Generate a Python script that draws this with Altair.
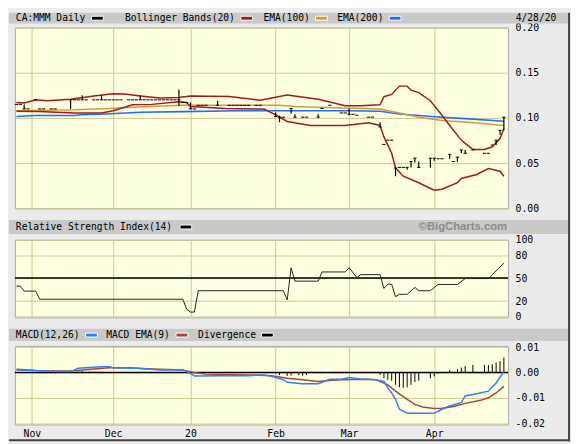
import altair as alt
import pandas as pd

# ---------------- data ----------------
month_names = ["Nov", "Dec", "20", "Feb", "Mar", "Apr"]
month_start_idx = [4, 25, 45, 67, 86, 108]   # trading-day index of each month's first session

# daily price bars: close tick for each traded day
bar_idx = [0, 1, 2, 3, 5, 6, 7, 9, 10,
           14, 15, 16, 17, 18, 20, 21, 22, 23, 24, 25, 26, 27, 29, 30, 31, 32,
           33, 34, 35, 36, 37, 38, 39, 40, 41, 42, 43, 44,
           45, 46, 47, 48, 49, 52, 55, 56, 57, 58, 59, 60, 62, 63,
           67, 68, 69, 71, 72, 74, 75, 78, 79, 81, 84, 85,
           86, 87, 88, 91, 92, 94, 95, 96, 97, 98, 99, 100, 101, 102, 103, 104,
           107, 108, 109, 110, 112, 113, 114, 115, 116, 118, 121, 122, 123, 124, 125, 126]
bar_close = [0.115, 0.115, 0.110, 0.110, 0.120, 0.110, 0.110, 0.110, 0.110,
             0.120, 0.120, 0.120, 0.120, 0.120, 0.120, 0.120, 0.120, 0.120, 0.120, 0.120, 0.120, 0.120, 0.120, 0.120, 0.120, 0.120,
             0.120, 0.120, 0.120, 0.120, 0.120, 0.120, 0.120, 0.120, 0.120, 0.120, 0.117, 0.117,
             0.110, 0.110, 0.114, 0.114, 0.114, 0.114, 0.114, 0.114, 0.114, 0.114, 0.114, 0.114, 0.114, 0.114,
             0.1015, 0.1008, 0.1008, 0.1105, 0.1008, 0.1008, 0.1008, 0.1008, 0.1105, 0.114, 0.1055, 0.1055,
             0.104, 0.104, 0.103, 0.1008, 0.1008, 0.090, 0.0707, 0.0754, 0.0754, 0.0446, 0.0453, 0.0453, 0.0453, 0.0518, 0.0555, 0.0453,
             0.0555, 0.0555, 0.0548, 0.0548, 0.0598, 0.0518, 0.0566, 0.0646, 0.0609, 0.0646, 0.0609, 0.0609, 0.070, 0.0754, 0.0863, 0.1008]

# days with a visible high-low range
range_idx = [2, 14, 17, 22, 32, 42, 45, 52, 67, 68, 71, 72, 78, 86, 94, 98,
             101, 102, 103, 104, 107, 108, 112, 114, 115, 116, 124, 125, 126]
range_low = [0.110, 0.110, 0.120, 0.120, 0.120, 0.1135, 0.110, 0.114, 0.1015, 0.0953, 0.105, 0.1008, 0.1008, 0.1035, 0.090, 0.0355,
             0.0428, 0.0453, 0.0508, 0.0453, 0.0453, 0.0527, 0.0548, 0.0515, 0.0609, 0.0609, 0.070, 0.0815, 0.0863]
range_high = [0.115, 0.120, 0.125, 0.125, 0.125, 0.1315, 0.117, 0.119, 0.106, 0.1026, 0.1105, 0.104, 0.104, 0.1105, 0.0953, 0.0446,
              0.0453, 0.0518, 0.0555, 0.0518, 0.0555, 0.0555, 0.0598, 0.0566, 0.0646, 0.0646, 0.0754, 0.0863, 0.1008]

bb_up_idx = [0, 2, 5, 8, 14, 20, 25, 28, 32, 37, 42, 45, 55, 63, 70, 78, 85, 89, 94, 95, 97, 99, 101, 102,
             104, 107, 110, 112, 115, 116, 118, 121, 123, 125, 126]
bb_up_val = [0.117, 0.1165, 0.120, 0.119, 0.1207, 0.1243, 0.1268, 0.1265, 0.1243, 0.122, 0.1225, 0.1243, 0.1236, 0.1196,
             0.1254, 0.1207, 0.1135, 0.1135, 0.1145, 0.1235, 0.126, 0.1352, 0.1352, 0.1308, 0.128, 0.119, 0.103, 0.0917,
             0.0755, 0.0718, 0.0652, 0.0652, 0.0681, 0.0772, 0.088]

bb_lo_idx = [0, 6, 15, 22, 25, 30, 35, 42, 44, 45, 54, 64, 67, 70, 76, 85, 91, 94, 95, 97, 98, 100,
             104, 108, 110, 114, 115, 119, 122, 125, 126]
bb_lo_val = [0.1073, 0.107, 0.1055, 0.1055, 0.108, 0.1146, 0.115, 0.1178, 0.117, 0.1127, 0.1105, 0.1098, 0.1033, 0.0961,
             0.0917, 0.0917, 0.0946, 0.0917, 0.079, 0.0609, 0.0446, 0.0355, 0.0283, 0.020, 0.0211, 0.0283, 0.033, 0.0374,
             0.0439, 0.041, 0.0355]

ema100_idx = [0, 15, 24, 34, 43, 68, 72, 80, 94, 98, 104, 110, 117, 126]
ema100_val = [0.108, 0.109, 0.1105, 0.1127, 0.114, 0.114, 0.1127, 0.1116, 0.1098, 0.1062, 0.1008, 0.0972, 0.0953, 0.0917]

ema200_idx = [0, 5, 15, 17, 23, 32, 43, 57, 86, 94, 99, 110, 117, 126]
ema200_val = [0.1015, 0.1026, 0.1026, 0.1037, 0.1044, 0.1062, 0.107, 0.108, 0.108, 0.1073, 0.1044, 0.1008, 0.099, 0.0964]

rsi_idx = [0, 1, 2, 5, 6, 43, 44, 45, 46, 47, 69, 70, 71, 72, 78, 79, 85, 86, 88, 89, 94, 95, 96, 97, 98,
           99, 101, 103, 104, 107, 109, 114, 116, 122, 123, 126]
rsi_val = [39.5, 39.5, 33, 33, 22.4, 22.4, 9.5, 5.6, 5.6, 33.5, 33.5, 21.5, 63.5, 46, 46, 58, 58, 63.5, 50.7, 54.5,
           54.5, 36.5, 42, 42, 25.7, 28.8, 28.8, 37.8, 33.5, 33.5, 41.7, 41.7, 49.4, 49.4, 54.5, 69.5]

macd_idx = [0, 5, 10, 14, 16, 22, 24, 25, 31, 37, 43, 45, 46, 52, 60, 64, 66, 69, 70, 74, 78, 79, 81, 84, 86,
            89, 93, 95, 96, 97, 98, 99, 101, 108, 110, 112, 115, 116, 119, 122, 124, 126]
macd_val = [0.001, 0.0008, 0.0004, 0.0004, 0.0017, 0.0023, 0.0023, 0.0019, 0.0017, 0.001, 0.001, -0.0003, -0.0013,
            -0.0012, -0.0012, -0.0009, -0.0015, -0.0028, -0.0038, -0.0044, -0.0044, -0.0038, -0.0026, -0.0026, -0.0019,
            -0.0025, -0.0028, -0.0035, -0.006, -0.008, -0.0105, -0.0144, -0.016, -0.016, -0.0144, -0.0131, -0.0118,
            -0.0092, -0.0083, -0.0073, -0.0041, 0.0004]

sig_idx = [0, 5, 10, 15, 20, 24, 29, 35, 43, 46, 49, 60, 66, 70, 74, 78, 80, 84, 90, 93, 96, 98, 101, 103, 105,
           108, 110, 113, 116, 120, 122, 124, 126]
sig_val = [0.0013, 0.0008, 0.0006, 0.0007, 0.0014, 0.0019, 0.0019, 0.0014, 0.001, 0.0, -0.0006, -0.0009, -0.0012,
           -0.0022, -0.0028, -0.0035, -0.0032, -0.0028, -0.0026, -0.0028, -0.0048, -0.0073, -0.0105, -0.0125, -0.0135,
           -0.0141, -0.014, -0.0133, -0.0121, -0.0109, -0.0099, -0.008, -0.0054]

div_idx = [2, 3, 6, 7, 9, 10, 16, 17, 19, 20,
           31, 32, 33, 34, 35, 36, 37, 38, 39, 40, 41, 42,
           44, 45, 47, 48, 50, 52, 54, 56, 58, 60,
           67, 68, 70, 71, 73, 74, 75, 81, 84, 85, 86,
           94, 95, 96, 97, 98, 99, 100, 101, 102, 103, 104, 107, 108, 109,
           112, 114, 115, 116, 118, 121, 122, 123, 124, 125, 126]
div_val = [-0.0002, -0.0002, -0.0002, -0.0003, -0.0003, -0.0003, 0.0004, 0.0006, 0.0005, 0.0004,
           -0.0002, -0.0002, -0.0002, -0.0002, -0.0002, -0.0002, -0.0002, -0.0002, -0.0002, -0.0002, -0.0002, -0.0002,
           -0.0003, -0.0004, -0.0003, -0.0003, -0.0002, -0.0002, -0.0002, -0.0002, -0.0002, -0.0002,
           -0.0005, -0.001, -0.0013, -0.0012, -0.001, -0.0012, -0.001, 0.0003, 0.0003, 0.0003, 0.0003,
           -0.0009, -0.0022, -0.0028, -0.0032, -0.0048, -0.0058, -0.006, -0.0058, -0.0048, -0.0037, -0.0032,
           -0.0022, -0.0015, -0.0004,
           0.001, 0.0014, 0.002, 0.0026, 0.003, 0.003, 0.003, 0.0033, 0.004, 0.0045, 0.0059]

main_legend = ["CA:MMM Daily", "Bollinger Bands(20)", "EMA(100)", "EMA(200)"]
rsi_legend = ["Relative Strength Index(14)"]
macd_legend = ["MACD(12,26)", "MACD EMA(9)", "Divergence"]
date_text = "4/28/20"
credit_text = "\u00a9BigCharts.com"

# ---------------- style ----------------
MONO = "DejaVu Sans Mono"
GRID = "#cfc792"
HEAD = "#c9c9c9"
BG = "#ebebeb"
C_BB = "#a31a1a"
C_E100 = "#d49a3a"
C_E200 = "#1f6fff"
C_MACD = "#2f80ff"
C_SIG = "#a4453f"
W = 502

xs = alt.Scale(domain=[-0.4, 127.1], nice=False, zero=False)
lab_expr = "".join(f"datum.value == {i} ? '{m}' : " for i, m in zip(month_start_idx, month_names)) + "''"


def x_axis(show):
    return alt.Axis(values=month_start_idx, grid=True, gridColor=GRID, gridWidth=1, domain=False, ticks=False,
                    labels=show, labelExpr=lab_expr, labelFont=MONO, labelFontSize=10, labelColor="#000",
                    labelPadding=4, labelBaseline="top", labelFlush=False, title=None)


def y_axis(values, expr):
    return alt.Axis(values=values, orient="right", grid=True, gridColor=GRID, gridWidth=1, domain=False,
                    ticks=False, labelExpr=expr, labelFont=MONO, labelFontSize=10, labelColor="#000",
                    labelPadding=7, labelAlign="left", labelBaseline="middle", labelOverlap=False, title=None)


one = pd.DataFrame({"k": [0]})


def rect(x1, x2, y1, y2, fill, stroke=None):
    kw = dict(fill=fill, strokeWidth=0)
    if stroke:
        kw = dict(fill=fill, stroke=stroke, strokeWidth=1)
    return alt.Chart(one).mark_rect(**kw).encode(
        x=alt.value(x1), x2=alt.value(x2), y=alt.value(y1), y2=alt.value(y2))


def label(x, y, s, align="left", font=MONO, size=9.8, color="#000", weight="normal"):
    return alt.Chart(one).mark_text(align=align, baseline="middle", font=font, fontSize=size, color=color,
                                    fontWeight=weight).encode(x=alt.value(x), y=alt.value(y), text=alt.value(s))


def swatch(x, y, color):
    return rect(x, x + 12, y - 2, y + 2, color, stroke="#ffffff")


def line(idx, val, color, width, xa, ys, ya):
    df = pd.DataFrame({"x": idx, "y": val})
    return alt.Chart(df).mark_line(color=color, strokeWidth=width).encode(
        x=alt.X("x:Q", scale=xs, axis=xa), y=alt.Y("y:Q", scale=ys, axis=ya))


# ---------------- main price panel ----------------
xa_top = x_axis(False)
ys_main = alt.Scale(domain=[0, 0.2], nice=False, zero=False)
ya_main = y_axis([0, 0.05, 0.10, 0.15, 0.20], "format(datum.value, '.2f')")

price_df = pd.DataFrame({"x": bar_idx, "y": bar_close})
range_df = pd.DataFrame({"x": range_idx, "lo": range_low, "hi": range_high})

ticks = alt.Chart(price_df).transform_calculate(xa="datum.x - 0.42", xb="datum.x + 0.42").mark_rule(
    color="#000", strokeWidth=1).encode(
    x=alt.X("xa:Q", scale=xs, axis=xa_top), x2="xb:Q", y=alt.Y("y:Q", scale=ys_main, axis=ya_main))
ranges = alt.Chart(range_df).mark_rule(color="#000", strokeWidth=1.2).encode(
    x=alt.X("x:Q", scale=xs, axis=xa_top), y=alt.Y("lo:Q", scale=ys_main, axis=ya_main), y2="hi:Q")

HY = -9.5
main = alt.layer(
    rect(-6, 563, -15, -4, HEAD),
    label(1, HY, main_legend[0]), swatch(78, HY, "#000"),
    label(112, HY, main_legend[1]), swatch(230, HY, C_BB),
    label(253, HY, main_legend[2]), swatch(306, HY, C_E100),
    label(328, HY, main_legend[3]), swatch(381, HY, C_E200),
    label(551, HY, date_text, align="right"),
    line(ema200_idx, ema200_val, C_E200, 1.6, xa_top, ys_main, ya_main),
    line(ema100_idx, ema100_val, C_E100, 1.6, xa_top, ys_main, ya_main),
    line(bb_up_idx, bb_up_val, C_BB, 1.5, xa_top, ys_main, ya_main),
    line(bb_lo_idx, bb_lo_val, C_BB, 1.5, xa_top, ys_main, ya_main),
    ticks, ranges,
).properties(width=W, height=184)

# ---------------- RSI panel ----------------
ys_rsi = alt.Scale(domain=[-1.3, 100], nice=False, zero=False)
ya_rsi = y_axis([0, 20, 50, 80, 100], "format(datum.value, 'd')")
rsi_mid = alt.Chart(pd.DataFrame({"y": [50]})).mark_rule(color="#000", strokeWidth=1.5).encode(
    y=alt.Y("y:Q", scale=ys_rsi, axis=ya_rsi))
RY = -13
rsi = alt.layer(
    rect(-6, 563, -20, -6, HEAD),
    label(1, RY, rsi_legend[0]), swatch(168, RY, "#000"),
    label(501, RY, credit_text, align="right", font="Liberation Sans", size=11.5, color="#8c8c8c", weight="bold"),
    rsi_mid,
    line(rsi_idx, rsi_val, "#222", 1, xa_top, ys_rsi, ya_rsi),
).properties(width=W, height=79)

# ---------------- MACD panel ----------------
xa_bot = x_axis(True)
ys_macd = alt.Scale(domain=[-0.0204, 0.0105], nice=False, zero=False)
ya_macd = y_axis([-0.02, -0.01, 0.0, 0.01],
                 "datum.value < 0 ? '-' + format(-datum.value, '.2f') : format(datum.value, '.2f')")
div_df = pd.DataFrame({"x": div_idx, "y": div_val})
div_bars = alt.Chart(div_df).transform_calculate(base="0").mark_rule(color="#000", strokeWidth=1).encode(
    x=alt.X("x:Q", scale=xs, axis=xa_bot), y=alt.Y("base:Q", scale=ys_macd, axis=ya_macd), y2="y:Q")
zero_line = alt.Chart(pd.DataFrame({"y": [0.0]})).mark_rule(color="#000", strokeWidth=1.5).encode(
    y=alt.Y("y:Q", scale=ys_macd, axis=ya_macd))
MY = -11
macd = alt.layer(
    rect(-6, 563, -17.5, -5, HEAD),
    label(1, MY, macd_legend[0]), swatch(72, MY, C_MACD),
    label(93, MY, macd_legend[1]), swatch(164, MY, C_SIG),
    label(186.5, MY, macd_legend[2]), swatch(251, MY, "#000"),
    div_bars, zero_line,
    line(sig_idx, sig_val, C_SIG, 1.5, xa_bot, ys_macd, ya_macd),
    line(macd_idx, macd_val, C_MACD, 1.5, xa_bot, ys_macd, ya_macd),
    rect(563, 565, -339, 97, "#444444"),
    rect(-6, 565, 95, 97, "#444444"),
).properties(width=W, height=80)

chart = alt.vconcat(
    main,
    alt.vconcat(rsi, macd, spacing=29, bounds="flush"),
    spacing=32, bounds="flush",
).properties(padding=0, background=BG).configure_view(
    fill="#fefee0", stroke="#a8a8a8", strokeWidth=1
)

chart.save("out.html", embed_options={"renderer": "svg", "actions": False})
